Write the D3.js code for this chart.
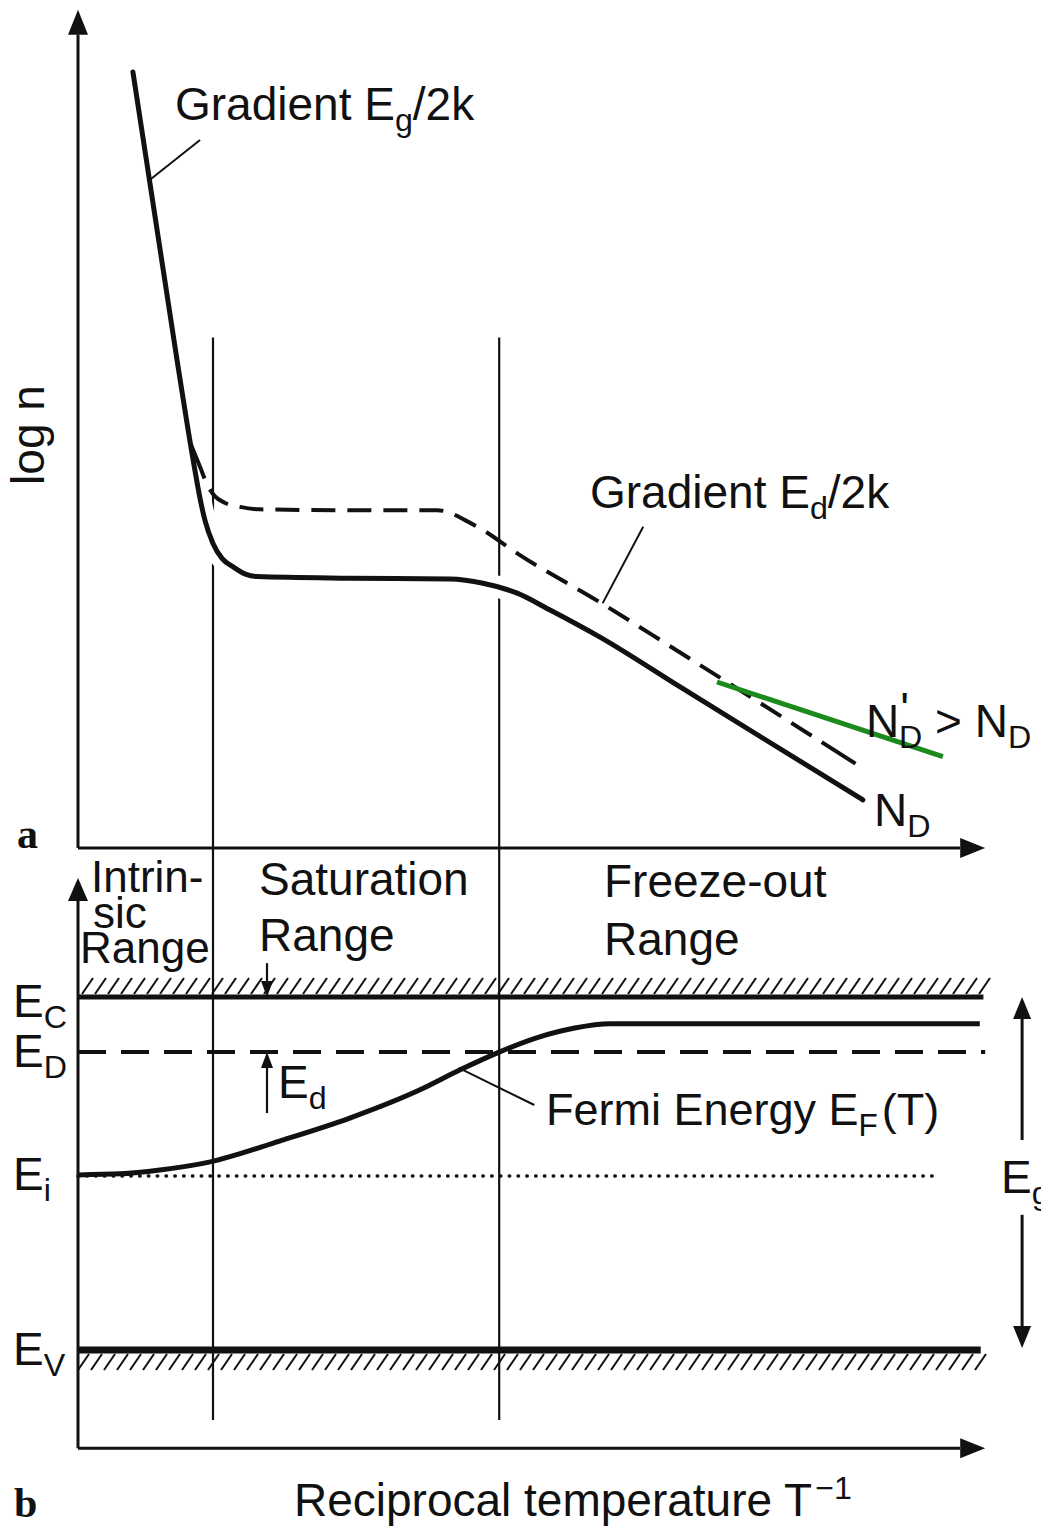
<!DOCTYPE html>
<html>
<head>
<meta charset="utf-8">
<script src="https://cdn.jsdelivr.net/npm/d3@7"></script>
<style>
  body { margin: 0; background: #fff; }
  svg { display: block; }
  text { font-family: "Liberation Sans", Arial, Helvetica, sans-serif; fill: #111; }
</style>
</head>
<body>
<div id="graphic"></div>
<script>
// Concentration de porteurs (a) et niveau de Fermi (b) en fonction de 1/T

// --- données (unités arbitraires) ---
// courbe log n, N_D (trait plein)
const nSolidX = [6.1, 11.0, 12.8, 13.6, 14.1, 15.0, 16.0, 17.2, 18.6, 19.9, 30.2, 41.3, 45.0, 48.8, 52.4, 58.0, 66.9, 87.2];
const nSolidY = [93.5, 58.8, 46.7, 41.9, 39.5, 36.7, 34.9, 33.9, 33.0, 32.7, 32.5, 32.4, 31.9, 30.7, 28.7, 25.4, 19.4, 5.8];
// courbe log n, N'_D > N_D (tirets)
const nDashX = [12.4, 13.6, 14.3, 15.2, 16.3, 18.0, 20.2, 30.2, 39.9, 41.3, 43.0, 45.0, 48.8, 58.0, 66.1, 87.2];
const nDashY = [49.0, 45.8, 43.9, 42.4, 41.6, 41.1, 40.8, 40.7, 40.7, 40.4, 39.5, 38.3, 35.5, 29.6, 24.1, 9.6];
// droite verte (pente ajoutée)
const greenX = [71.0, 96.1];
const greenY = [20.0, 11.0];
// niveau de Fermi E_F(T), en fraction de E_g
const efX = [0, 4.7, 9.1, 14.7, 22.4, 30.2, 38.0, 42.4, 46.8, 51.3, 55.2, 59.1, 100.2];
const efY = [0.496, 0.499, 0.510, 0.533, 0.592, 0.657, 0.737, 0.793, 0.844, 0.887, 0.912, 0.924, 0.924];
// niveaux d'énergie
const levelNames = ["C", "D", "i", "V"];
const levelValues = [1, 0.844, 0.493, 0];
// limites des domaines
const boundaries = [15.0, 46.8];
const rangeLabels = [["Intrin-", "sic", "Range"], ["Saturation", "Range"], ["Freeze-out", "Range"]];

// --- cadre ---
const W = 1041, H = 1526;
const ink = "#111";
const fs = 46;
const svg = d3.select("#graphic").append("svg")
  .attr("width", W).attr("height", H)
  .attr("viewBox", `0 0 ${W} ${H}`);

const x = d3.scaleLinear().domain([0, 100]).range([78, 978]);
const yN = d3.scaleLinear().domain([0, 100]).range([848, 18]);
const yE = d3.scaleLinear().domain([0, 1]).range([1350, 997]);

const line = (a, b) => d3.line().x((d, i) => x(a[i])).y((d, i) => b[i]);
function seg(g, x1, y1, x2, y2, w) {
  return g.append("line").attr("x1", x1).attr("y1", y1).attr("x2", x2).attr("y2", y2)
    .attr("stroke", ink).attr("stroke-width", w);
}
function head(g, px, py, dir, len, half) {
  let pts;
  if (dir == "up") pts = [[px, py], [px - half, py + len], [px + half, py + len]];
  if (dir == "down") pts = [[px, py], [px - half, py - len], [px + half, py - len]];
  if (dir == "right") pts = [[px, py], [px - len, py - half], [px - len, py + half]];
  g.append("polygon").attr("points", pts.map(p => p.join(",")).join(" ")).attr("fill", ink);
}
// texte avec indices / exposants
function rich(g, px, py, parts, size) {
  const t = g.append("text").attr("x", px).attr("y", py).attr("font-size", size);
  let shift = 0;
  parts.forEach(p => {
    const s = t.append("tspan").text(p[0]);
    const target = p[1] == "sub" ? 11 : p[1] == "sup" ? -17 : p[1] == "prime" ? -12 : 0;
    s.attr("dy", target - shift);
    shift = target;
    if (p[1] == "sub" || p[1] == "sup") s.attr("font-size", size * 0.7);
    if (p[2]) s.attr("dx", p[2]);
  });
  return t;
}

const g = svg.append("g");

// limites des domaines (traversent les deux graphes)
boundaries.forEach(b => seg(g, x(b), yN(61.5), x(b), yE(-0.198), 2.2));

// ===== (a) log n =====
seg(g, x(0), yN(0), x(0), yN(98), 3);
head(g, x(0), yN(101), "up", 25, 10);
seg(g, x(0), yN(0), x(98), yN(0), 3);
head(g, x(100.8), yN(0), "right", 25, 10);

const valsSolid = nSolidX.map((d, i) => yN(nSolidY[i]));
const valsDash = nDashX.map((d, i) => yN(nDashY[i]));

// halo blanc qui coupe les verticales
g.append("path").attr("d", line(nSolidX, valsSolid).curve(d3.curveMonotoneX)(nSolidX))
  .attr("fill", "none").attr("stroke", "#fff").attr("stroke-width", 22);
g.append("path").attr("d", line(nSolidX, valsSolid).curve(d3.curveMonotoneX)(nSolidX))
  .attr("fill", "none").attr("stroke", ink).attr("stroke-width", 5).attr("stroke-linecap", "round");
g.append("path").attr("d", line(nDashX, valsDash).curve(d3.curveMonotoneX)(nDashX))
  .attr("fill", "none").attr("stroke", ink).attr("stroke-width", 4)
  .attr("stroke-dasharray", "40,12,24,12,24,12,24,12,24,12,24,12,24,12,24,12,24,12,24,12,24,12,24,12,24,12,24,12,24,12,24,12,24,12,24,12,24,12,24,12");

// droite verte
g.append("path").attr("d", line(greenX, greenY.map(v => yN(v)))(greenX))
  .attr("fill", "none").attr("stroke", "#1c8a1c").attr("stroke-width", 5);

// annotations
seg(g, x(8.1), yN(80.6), x(13.56), yN(85.3), 2);
rich(g, 175, 120, [["Gradient E"], ["g", "sub"], ["/2k"]], fs);
seg(g, x(58.3), yN(29.5), x(62.8), yN(38.7), 2);
rich(g, 590, 508, [["Gradient E"], ["d", "sub"], ["/2k"]], fs);
rich(g, 866, 737, [["N"], ["'", "prime", 1], ["D", "sub", -10], [" > N", null], ["D", "sub"]], fs);
rich(g, 874, 826, [["N"], ["D", "sub"]], fs);

g.append("text").attr("transform", "translate(44,435) rotate(-90)")
  .attr("text-anchor", "middle").attr("font-size", fs).text("log n");
g.append("text").attr("x", 17).attr("y", 848).attr("font-size", 42)
  .attr("font-weight", "bold").style("font-family", "'Liberation Serif', 'Times New Roman', serif").text("a");

// ===== (b) niveaux d'énergie =====
seg(g, x(0), yE(-0.278), x(0), yE(1.30), 3);
head(g, x(0), yE(1.337), "up", 23, 10);
seg(g, x(0), yE(-0.278), x(98), yE(-0.278), 3);
head(g, x(100.8), yE(-0.278), "right", 25, 10);

// hachures bande de conduction / valence
d3.range(x(0) + 4, x(100.3), 13).forEach(xi => {
  seg(g, xi, yE(1) - 3, xi + 11, yE(1) - 19, 2);
  seg(g, xi - 4, yE(0) + 20, xi + 7, yE(0) + 4, 2);
});

// E_C, E_D, E_i, E_V
seg(g, x(0), yE(levelValues[0]), x(100.6), yE(levelValues[0]), 5);
seg(g, x(0), yE(levelValues[1]), x(100.8), yE(levelValues[1]), 4).attr("stroke-dasharray", "28,15");
seg(g, x(0), yE(levelValues[2]), x(95.0), yE(levelValues[2]), 3.5)
  .attr("stroke-dasharray", "0.5,8.3").attr("stroke-linecap", "round");
seg(g, x(0), yE(levelValues[3]), x(100.3), yE(levelValues[3]), 7);

const labelBase = [1017, 1067, 1190, 1365];
levelNames.forEach((n, i) => rich(g, 13, labelBase[i], [["E"], [n, "sub"]], fs));

// niveau de Fermi
g.append("path").attr("d", line(efX, efY.map(v => yE(v))).curve(d3.curveMonotoneX)(efX))
  .attr("fill", "none").attr("stroke", ink).attr("stroke-width", 5);
seg(g, x(42.3), yE(0.799), x(50.7), yE(0.694), 2);
rich(g, 546, 1125, [["Fermi Energy E"], ["F", "sub"], ["(T)", null, 4]], 45);

// E_d
seg(g, x(21), yE(1.096), x(21), yE(1) - 14, 2.2);
head(g, x(21), yE(1), "down", 16, 6);
seg(g, x(21), yE(0.671), x(21), yE(0.844) + 14, 2.2);
head(g, x(21), yE(0.844), "up", 16, 6);
rich(g, 278, 1098, [["E"], ["d", "sub"]], fs);

// E_g
seg(g, x(104.9), yE(1) + 20, x(104.9), yE(0.595), 3);
head(g, x(104.9), yE(1), "up", 22, 9);
seg(g, x(104.9), yE(0.383), x(104.9), yE(0) - 22, 3);
head(g, x(104.9), yE(0) - 2, "down", 22, 9);
rich(g, 1001, 1193, [["E"], ["g", "sub"]], fs);

// noms des domaines
const rangeX = [[91, 93, 80], [259, 259], [604, 604]];
const rangeY = [[892, 928, 963], [895, 951], [897, 955]];
rangeLabels.forEach((lines, i) => lines.forEach((s, j) =>
  g.append("text").attr("x", rangeX[i][j]).attr("y", rangeY[i][j])
    .attr("font-size", i == 0 ? 44 : fs).text(s)));

// axe des abscisses
rich(g, 294, 1516, [["Reciprocal temperature T"], ["−1", "sup", 3]], fs);
g.append("text").attr("x", 14).attr("y", 1517).attr("font-size", 42)
  .attr("font-weight", "bold").style("font-family", "'Liberation Serif', 'Times New Roman', serif").text("b");
</script>
</body>
</html>
